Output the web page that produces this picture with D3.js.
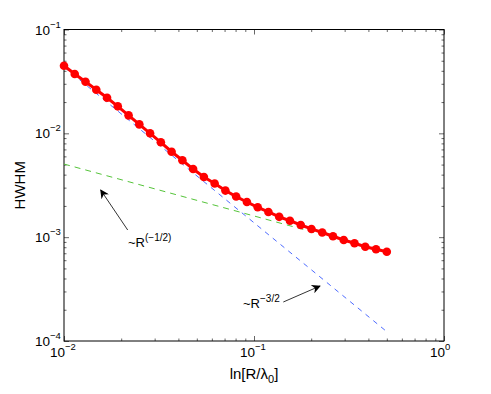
<!DOCTYPE html>
<html lang="en">
<head>
<meta charset="UTF-8" />
<title>HWHM vs ln[R/lambda0]</title>
<script src="https://d3js.org/d3.v7.min.js"></script>
<style>
    body { margin: 0; background: #fff; }
    text { font-family: "Liberation Sans", Arial, Helvetica, sans-serif; fill: #000; }
    .tick line { stroke: #000; stroke-width: 0.6; }
    .domain { display: none; }
</style>
</head>
<body>
<svg width="491" height="394"></svg>
<script>
    // data
    const rValues = [0.01, 0.01139, 0.01298, 0.01479, 0.01685, 0.01919, 0.02187, 0.02491, 0.02838, 0.03234,
        0.03684, 0.04198, 0.04782, 0.05448, 0.06207, 0.07071, 0.08056, 0.09178, 0.1046, 0.1191,
        0.1357, 0.1546, 0.1762, 0.2007, 0.2286, 0.2605, 0.2967, 0.3381, 0.3852, 0.4388, 0.5];
    const hwhmValues = [0.0448, 0.0373, 0.0314, 0.0263, 0.0220, 0.0182, 0.0149, 0.0122, 0.0100, 0.0082,
        0.00665, 0.0055, 0.00453, 0.0038, 0.00329, 0.00281, 0.00246, 0.00218, 0.00194, 0.00175,
        0.00157, 0.00144, 0.00131, 0.0012, 0.00111, 0.00102, 0.000939, 0.000873, 0.000809, 0.000764, 0.000724];
    const fitSteepR = [0.01, 0.5];
    const fitSteepY = [0.0436, 0.000123];
    const fitFlatR = [0.01, 0.5];
    const fitFlatY = [0.00506, 0.000716];
    const xMajor = [0.01, 0.1, 1];
    const yMajor = [0.0001, 0.001, 0.01, 0.1];
    const xExp = ["\u22122", "\u22121", "0"];
    const yExp = ["\u22124", "\u22123", "\u22122", "\u22121"];

    const mLeft = 64, mRight = 444, mTop = 29.5, mBottom = 341;
    const svg = d3.select("svg");

    const x = d3.scaleLog().domain([0.01, 1]).range([mLeft, mRight]);
    const y = d3.scaleLog().domain([0.0001, 0.1]).range([mBottom, mTop]);

    function minorTicks(dom) {
        const out = [];
        for (let e = Math.round(Math.log10(dom[0])); e < Math.round(Math.log10(dom[1])); e++) {
            for (let k = 2; k <= 9; k++) out.push(k * Math.pow(10, e));
        }
        return out;
    }
    const xMinor = minorTicks(x.domain());
    const yMinor = minorTicks(y.domain());

    // ticks pointing inward on all four sides
    function addAxis(axisFn, scale, vals, size, tx, ty) {
        svg.append("g")
            .attr("transform", `translate(${tx},${ty})`)
            .call(axisFn(scale).tickValues(vals).tickSize(size).tickFormat(""));
    }
    addAxis(d3.axisBottom, x, xMajor, -5, 0, mBottom);
    addAxis(d3.axisBottom, x, xMinor, -2.5, 0, mBottom);
    addAxis(d3.axisTop, x, xMajor, -5, 0, mTop);
    addAxis(d3.axisTop, x, xMinor, -2.5, 0, mTop);
    addAxis(d3.axisLeft, y, yMajor, -5, mLeft, 0);
    addAxis(d3.axisLeft, y, yMinor, -2.5, mLeft, 0);
    addAxis(d3.axisRight, y, yMajor, -5, mRight, 0);
    addAxis(d3.axisRight, y, yMinor, -2.5, mRight, 0);

    svg.append("rect")
        .attr("x", mLeft).attr("y", mTop)
        .attr("width", mRight - mLeft).attr("height", mBottom - mTop)
        .attr("fill", "none").attr("stroke", "#000").attr("stroke-width", 1);

    // tick labels 10^n
    const xl = svg.append("g").selectAll("text")
        .data(xMajor).enter().append("text")
        .attr("x", d => x(d) - 14).attr("y", mBottom + 16)
        .attr("font-size", "13.5px");
    xl.append("tspan").text("10");
    xl.append("tspan").attr("dy", -7).attr("font-size", "9.5px").text((d, i) => xExp[i]);

    const yl = svg.append("g").selectAll("text")
        .data(yMajor).enter().append("text")
        .attr("x", mLeft - 29).attr("y", d => y(d) + 5)
        .attr("font-size", "13.5px");
    yl.append("tspan").text("10");
    yl.append("tspan").attr("dy", -7).attr("font-size", "9.5px").text((d, i) => yExp[i]);

    // axis titles
    const xt = svg.append("text")
        .attr("x", 254).attr("y", 379)
        .attr("text-anchor", "middle")
        .attr("font-size", "15px");
    xt.append("tspan").text("ln[R/\u03bb");
    xt.append("tspan").attr("dy", 4).attr("font-size", "11px").text("0");
    xt.append("tspan").attr("dy", -4).text("]");

    svg.append("text")
        .attr("transform", `translate(25,${(mTop + mBottom) / 2}) rotate(-90)`)
        .attr("text-anchor", "middle")
        .attr("font-size", "15px")
        .text("HWHM");

    // fit lines
    const line = d3.line().x(d => x(d[0])).y(d => y(d[1]));
    svg.append("path")
        .datum(d3.zip(fitSteepR, fitSteepY))
        .attr("d", line)
        .attr("fill", "none").attr("stroke", "#4d6bff")
        .attr("stroke-width", 1).attr("stroke-dasharray", "5,5");
    svg.append("path")
        .datum(d3.zip(fitFlatR, fitFlatY))
        .attr("d", line)
        .attr("fill", "none").attr("stroke", "#55c43a")
        .attr("stroke-width", 1).attr("stroke-dasharray", "6,5");

    // data curve
    const pts = d3.zip(rValues, hwhmValues);
    svg.append("path")
        .datum(pts)
        .attr("d", line)
        .attr("fill", "none").attr("stroke", "#ff0000").attr("stroke-width", 3);
    svg.append("g").selectAll("circle")
        .data(pts).enter().append("circle")
        .attr("cx", d => x(d[0])).attr("cy", d => y(d[1]))
        .attr("r", 4.3).attr("fill", "#ff0000");

    // annotations
    svg.append("defs").append("marker")
        .attr("id", "head").attr("viewBox", "0 0 10 10")
        .attr("refX", 9).attr("refY", 5)
        .attr("markerWidth", 11).attr("markerHeight", 9)
        .attr("markerUnits", "userSpaceOnUse")
        .attr("orient", "auto")
        .append("path").attr("d", "M0,0 L10,5 L0,10 L3,5 Z").attr("fill", "#000");

    svg.append("line")
        .attr("x1", 127.7).attr("y1", 230).attr("x2", 100.7).attr("y2", 190)
        .attr("stroke", "#000").attr("stroke-width", 0.8).attr("marker-end", "url(#head)");
    const a1 = svg.append("text").attr("x", 128).attr("y", 247).attr("font-size", "13px");
    a1.append("tspan").text("~R");
    a1.append("tspan").attr("dy", -6).attr("font-size", "10px").text("(\u22121/2)");

    svg.append("line")
        .attr("x1", 283.3).attr("y1", 302).attr("x2", 320).attr("y2", 286)
        .attr("stroke", "#000").attr("stroke-width", 0.8).attr("marker-end", "url(#head)");
    const a2 = svg.append("text").attr("x", 243).attr("y", 308).attr("font-size", "13px");
    a2.append("tspan").text("~R");
    a2.append("tspan").attr("dy", -6).attr("font-size", "10px").text("\u22123/2");
</script>
</body>
</html>
